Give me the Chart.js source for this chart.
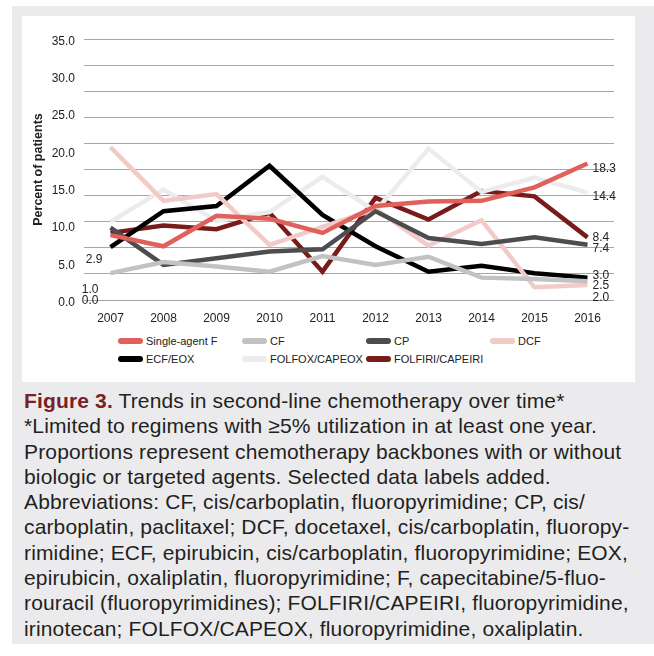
<!DOCTYPE html>
<html lang="en">
<head>
  <meta charset="UTF-8" />
  <title>Figure 3</title>
  <script src="https://cdn.jsdelivr.net/npm/chart.js"></script>
  <style>
    body { margin: 0; background: #fff; font-family: "Liberation Sans", Arial, sans-serif; }
    #panel { position: absolute; left: 12px; top: 6px; width: 642px; height: 638px; background: #ebebed; }
    #box { position: absolute; left: 10px; top: 10px; width: 613px; height: 366px; background: #fff; }
    #chartWrap { position: absolute; left: 0; top: 0; width: 613px; height: 314px; }
    #legend { position: absolute; left: 96px; top: 318px; width: 500px; display: grid;
      grid-template-columns: 124px 124px 124px 124px; row-gap: 4px; font-size: 11px; color: #222; }
    #legend div { display: flex; align-items: center; height: 14px; white-space: nowrap; }
    #legend span.sw { flex: none; display: inline-block; width: 25px; height: 6px; border-radius: 3px; margin-right: 3px; }
    #caption { position: absolute; left: 12px; top: 382px; font-size: 21px; letter-spacing: 0.15px; line-height: 25.3px;
      color: #231f20; white-space: nowrap; }
    #caption b { color: #7a1f23; }
  </style>
</head>
<body>
<div id="panel">
  <div id="box">
    <div id="chartWrap"><canvas id="trendChart" width="613" height="314"></canvas></div>
    <div id="legend"></div>
  </div>
  <div id="caption">
    <b>Figure 3.</b> Trends in second-line chemotherapy over time*<br>
    *Limited to regimens with ≥5% utilization in at least one year.<br>
    Proportions represent chemotherapy backbones with or without<br>
    biologic or targeted agents. Selected data labels added.<br>
    Abbreviations: CF, cis/carboplatin, fluoropyrimidine; CP, cis/<br>
    carboplatin, paclitaxel; DCF, docetaxel, cis/carboplatin, fluoropy-<br>
    rimidine; ECF, epirubicin, cis/carboplatin, fluoropyrimidine; EOX,<br>
    epirubicin, oxaliplatin, fluoropyrimidine; F, capecitabine/5-fluo-<br>
    rouracil (fluoropyrimidines); FOLFIRI/CAPEIRI, fluoropyrimidine,<br>
    irinotecan; FOLFOX/CAPEOX, fluoropyrimidine, oxaliplatin.
  </div>
</div>

<script>
  const years = ['2007', '2008', '2009', '2010', '2011', '2012', '2013', '2014', '2015', '2016'];

  const singleAgentF = [8.7, 7.2, 11.3, 10.9, 9.0, 12.6, 13.2, 13.3, 15.1, 18.3];
  const cf = [3.6, 5.1, 4.5, 3.8, 5.9, 4.7, 5.8, 3.0, 2.8, 2.5];
  const cp = [9.7, 4.7, 5.6, 6.5, 6.8, 11.9, 8.3, 7.5, 8.4, 7.4];
  const dcf = [20.5, 13.3, 14.2, 7.4, 9.8, 12.2, 7.3, 10.7, 1.7, 2.0];
  const ecfEox = [7.1, 11.9, 12.6, 18.0, 11.4, 7.2, 3.8, 4.6, 3.6, 3.0];
  const folfox = [10.5, 14.8, 10.6, 11.8, 16.5, 11.9, 20.3, 14.5, 16.4, 14.4];
  const folfiri = [9.0, 10.0, 9.5, 11.7, 3.8, 13.7, 10.8, 14.6, 13.9, 8.4];

  const yTicks = [0, 5, 10, 15, 20, 25, 30, 35];
  // labels at the left edge, as printed in the figure
  const startLabels = ['2.9', '1.0', '0.0'];
  const startLabelValues = [5.5, 1.5, 0];

  const series = [
    { label: 'Single-agent F', data: singleAgentF, color: '#e0605a', endDy: 5 },
    { label: 'CF', data: cf, color: '#c2c2c4', endDy: 4 },
    { label: 'CP', data: cp, color: '#4d4d4f', endDy: 4 },
    { label: 'DCF', data: dcf, color: '#f2cac8', endDy: 13 },
    { label: 'ECF/EOX', data: ecfEox, color: '#000000', endDy: -2 },
    { label: 'FOLFOX/CAPEOX', data: folfox, color: '#ececec', endDy: 4 },
    { label: 'FOLFIRI/CAPEIRI', data: folfiri, color: '#7a1b1b', endDy: 0 }
  ];

  const labelPlugin = {
    id: 'labels',
    afterDatasetsDraw(chart) {
      const c = chart.ctx;
      c.save();
      c.font = '12px "Liberation Sans", Arial, sans-serif';
      c.fillStyle = '#222';
      c.textBaseline = 'middle';
      c.textAlign = 'left';
      series.forEach((s, i) => {
        const pts = chart.getDatasetMeta(i).data;
        const p = pts[pts.length - 1];
        c.fillText(s.data[s.data.length - 1].toFixed(1), p.x + 5, p.y + s.endDy);
      });
      c.textAlign = 'right';
      const x0 = chart.scales.x.getPixelForValue(0);
      startLabels.forEach((t, i) => {
        c.fillText(t, x0 - (i === 0 ? 8 : 12), chart.scales.y.getPixelForValue(startLabelValues[i]) + 1);
      });
      c.restore();
    }
  };

  const chart = new Chart(document.getElementById('trendChart'), {
    type: 'line',
    data: {
      labels: years,
      datasets: series.map(s => ({
        label: s.label,
        data: s.data,
        borderColor: s.color,
        backgroundColor: s.color,
        borderWidth: 4.5,
        pointRadius: 0,
        tension: 0,
        borderJoinStyle: 'miter',
        borderCapStyle: 'butt'
      }))
    },
    options: {
      responsive: false,
      animation: false,
      layout: { padding: { top: 23, right: 21, left: 0, bottom: 0 } },
      plugins: { legend: { display: false }, tooltip: { enabled: false } },
      scales: {
        x: {
          offset: true,
          grid: { display: false, drawTicks: false },
          border: { display: false },
          ticks: { color: '#222', font: { size: 12, family: '"Liberation Sans", Arial' }, padding: 11, maxRotation: 0, autoSkip: false },
          afterFit(a) { a.height = 30; }
        },
        y: {
          min: 0, max: 35,
          afterBuildTicks(a) { a.ticks = yTicks.map(v => ({ value: v })); },
          ticks: {
            callback: v => Number(v).toFixed(1),
            padding: 9, labelOffset: 2.5, color: '#222',
            font: { size: 12, family: '"Liberation Sans", Arial' }
          },
          grid: { display: false, drawTicks: false },
          border: { display: false },
          title: {
            display: true, text: 'Percent of patients', color: '#222',
            font: { size: 12.5, weight: 'bold', family: '"Liberation Sans", Arial' },
            padding: { top: 9, bottom: 0 }
          },
          afterFit(a) { a.width = 62; }
        },
        yGrid: {
          position: 'left',
          min: 0, max: 35,
          ticks: { display: false, stepSize: 3.5 },
          grid: { color: '#a6a6a6', lineWidth: 1, drawTicks: false },
          border: { display: false },
          afterFit(a) { a.width = 0; }
        }
      }
    },
    plugins: [labelPlugin]
  });

  // legend laid out in a 4-column grid like the figure
  const legend = document.getElementById('legend');
  chart.data.datasets.forEach(ds => {
    const item = document.createElement('div');
    item.innerHTML = '<span class="sw" style="background:' + ds.borderColor + '"></span>' + ds.label;
    legend.appendChild(item);
  });
</script>
</body>
</html>
